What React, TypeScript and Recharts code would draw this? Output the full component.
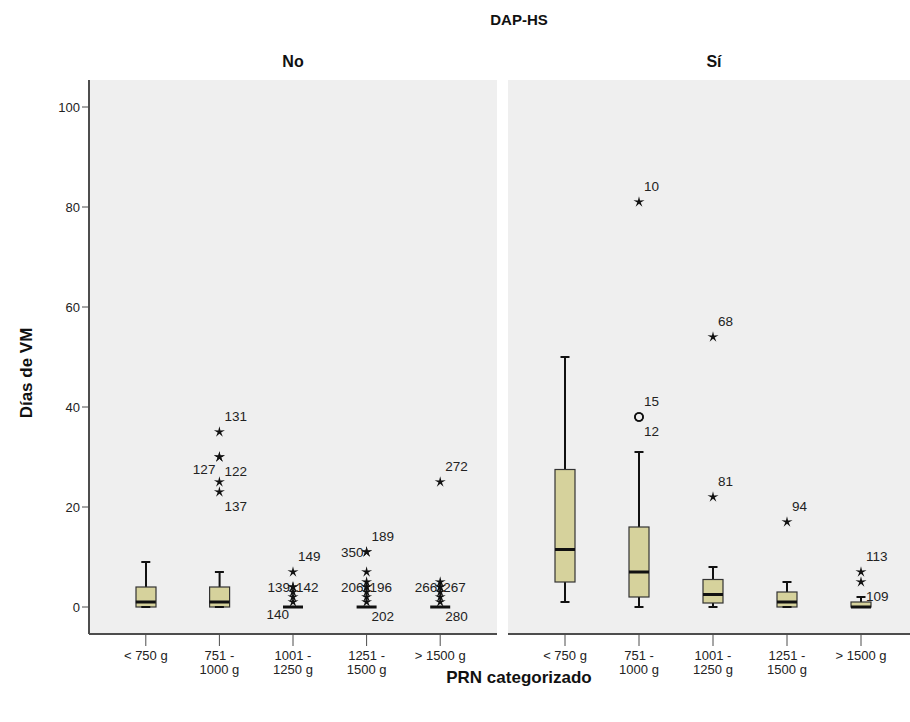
import React from "react";
import { Bar, CartesianGrid, ComposedChart, Scatter, XAxis, YAxis } from "recharts";

const categories = ["< 750 g", "751 - 1000 g", "1001 - 1250 g", "1251 - 1500 g", "> 1500 g"];
const yTicks = [0, 20, 40, 60, 80, 100];
const yDomain: [number, number] = [-5.4, 105.4];

// five-number summaries per category, DAP-HS = No
const noMin = [0, 0, 0, 0, 0];
const noQ1 = [0, 0, 0, 0, 0];
const noMedian = [1, 1, 0, 0, 0];
const noQ3 = [4, 4, 0, 0, 0];
const noMax = [9, 7, 0, 0, 0];

// DAP-HS = Sí
const siMin = [1, 0, 0, 0, 0];
const siQ1 = [5, 2, 0.8, 0, 0];
const siMedian = [11.5, 7, 2.5, 1, 0];
const siQ3 = [27.5, 16, 5.5, 3, 1];
const siMax = [50, 31, 8, 5, 2];

// [category index, días, case number or null]
const noExtremes: [number, number, number | null][] = [
  [1, 35, 131], [1, 30, 127], [1, 30, 122], [1, 25, null], [1, 23, 137],
  [2, 7, 149], [2, 4, 139], [2, 4, 142], [2, 3, null], [2, 2, null], [2, 1, 140],
  [3, 11, 350], [3, 11, 189], [3, 7, null], [3, 5, null], [3, 4, 206], [3, 4, 196],
  [3, 3, null], [3, 2, null], [3, 1, 202],
  [4, 25, 272], [4, 5, null], [4, 4, 266], [4, 4, 267], [4, 3, null], [4, 2, null], [4, 1, 280],
];
const noMild: [number, number, number | null][] = [];

const siExtremes: [number, number, number | null][] = [
  [1, 81, 10], [2, 54, 68], [2, 22, 81], [3, 17, 94], [4, 7, 113], [4, 5, 109],
];
const siMild: [number, number, number | null][] = [
  [1, 38, 15], [1, 38, 12],
];

// where each case label sits around its marker
const labelSpots: Record<number, string> = {
  131: "ur", 127: "dl", 122: "dr", 137: "dr", 149: "ur", 139: "l", 142: "r", 140: "dl",
  350: "l", 189: "ur", 206: "l", 196: "r", 202: "dr", 272: "ur", 266: "l", 267: "r", 280: "dr",
  10: "ur", 15: "ur", 12: "dr", 68: "ur", 81: "ur", 94: "ur", 113: "ur", 109: "dr",
};

const FONT = '"Liberation Sans", Arial, sans-serif';
const BOX_FILL = "#d6d29c";
const INK = "#111";
const FRAME = "#4d4d4d";

const buildRows = (mn: number[], q1: number[], md: number[], q3: number[], mx: number[]) =>
  categories.map((cat, i) => ({ cat, min: mn[i], q1: q1[i], median: md[i], q3: q3[i], max: mx[i] }));

const buildPoints = (ext: [number, number, number | null][], mild: [number, number, number | null][]) => [
  ...ext.map(([c, value, id]) => ({ cat: categories[c], value, id, kind: "star" })),
  ...mild.map(([c, value, id]) => ({ cat: categories[c], value, id, kind: "circle" })),
];

const noRows = buildRows(noMin, noQ1, noMedian, noQ3, noMax);
const siRows = buildRows(siMin, siQ1, siMedian, siQ3, siMax);
const noPoints = buildPoints(noExtremes, noMild);
const siPoints = buildPoints(siExtremes, siMild);

function starPoints(cx: number, cy: number) {
  const pts: string[] = [];
  for (let i = 0; i < 10; i++) {
    const r = i % 2 === 0 ? 5.8 : 1.8;
    const a = -Math.PI / 2 + (i * Math.PI) / 5;
    pts.push(`${cx + r * Math.cos(a)},${cy + r * Math.sin(a)}`);
  }
  return pts.join(" ");
}

const spotOffsets: Record<string, { dx: number; dy: number; anchor: "start" | "end" }> = {
  ur: { dx: 5, dy: -11, anchor: "start" },
  l: { dx: -3, dy: 5, anchor: "end" },
  r: { dx: 3, dy: 5, anchor: "start" },
  dl: { dx: -4, dy: 17, anchor: "end" },
  dr: { dx: 5, dy: 19, anchor: "start" },
};

function OutlierMark(props: any) {
  const { cx, cy, payload } = props;
  const spot = payload.id != null ? spotOffsets[labelSpots[payload.id] ?? "ur"] : null;
  return (
    <g>
      {payload.kind === "circle" ? (
        <circle cx={cx} cy={cy} r={4} fill="none" stroke={INK} strokeWidth={1.7} />
      ) : (
        <polygon points={starPoints(cx, cy)} fill={INK} />
      )}
      {spot && (
        <text
          x={cx + spot.dx}
          y={cy + spot.dy}
          textAnchor={spot.anchor}
          fontSize={13.5}
          fontFamily={FONT}
          fill="#222"
        >
          {payload.id}
        </text>
      )}
    </g>
  );
}

function Whisker(props: any) {
  const { x, y, width, height } = props;
  const top = Math.min(y, y + height);
  const bottom = Math.max(y, y + height);
  const mid = x + width / 2;
  return <line x1={mid} x2={mid} y1={top} y2={bottom} stroke={INK} strokeWidth={2} />;
}

function BoxRect(props: any) {
  const { x, y, width, height } = props;
  const top = Math.min(y, y + height);
  const h = Math.abs(height);
  return <rect x={x} y={top} width={width} height={h} fill={BOX_FILL} stroke="#333" strokeWidth={1.2} />;
}

const MedianMark = (p: any) => (
  <line x1={p.cx - 10} x2={p.cx + 10} y1={p.cy} y2={p.cy} stroke={INK} strokeWidth={3} />
);
const CapMark = (p: any) => (
  <line x1={p.cx - 4.5} x2={p.cx + 4.5} y1={p.cy} y2={p.cy} stroke={INK} strokeWidth={2} />
);

// category names break after the dash, as two stacked lines
function CatTick(props: any) {
  const { x, y, payload } = props;
  const parts = String(payload.value).split(" - ");
  const lines = parts.length === 2 ? [parts[0] + " -", parts[1]] : parts;
  return (
    <g>
      {lines.map((t, i) => (
        <text key={i} x={x} y={y + 12 + i * 14} textAnchor="middle" fontSize={13} fontFamily={FONT} fill="#222">
          {t}
        </text>
      ))}
    </g>
  );
}

function Panel({ rows, points, width, withTicks }: { rows: any[]; points: any[]; width: number; withTicks: boolean }) {
  return (
    <ComposedChart
      width={width}
      height={722}
      data={rows}
      margin={{ top: 80, right: 2, bottom: 48, left: 0 }}
      barSize={20}
      barGap={-20}
    >
      <CartesianGrid fill="#efefef" horizontal={false} vertical={false} />
      <XAxis
        dataKey="cat"
        allowDuplicatedCategory={false}
        padding={{ left: 20, right: 20 }}
        height={40}
        tickSize={12}
        tickMargin={2}
        tickLine={{ stroke: FRAME }}
        axisLine={{ stroke: FRAME, strokeWidth: 2 }}
        tick={<CatTick />}
        interval={0}
      />
      <XAxis
        xAxisId="top"
        orientation="top"
        dataKey="cat"
        allowDuplicatedCategory={false}
        height={0}
        tick={false}
        tickLine={false}
        axisLine={{ stroke: FRAME, strokeWidth: 2 }}
      />
      <YAxis
        domain={yDomain}
        ticks={withTicks ? yTicks : []}
        allowDataOverflow
        width={withTicks ? 89 : 0}
        tickSize={7}
        tickMargin={2}
        tick={withTicks ? { fontSize: 13, fontFamily: FONT, fill: "#222" } : false}
        tickLine={withTicks ? { stroke: FRAME } : false}
        axisLine={{ stroke: FRAME, strokeWidth: 2 }}
        label={
          withTicks
            ? {
                value: "Días de VM",
                angle: -90,
                position: "insideLeft",
                offset: 26,
                dy: 16,
                style: { fontSize: 17, fontWeight: 700, fontFamily: FONT, fill: "#111", textAnchor: "middle" },
              }
            : undefined
        }
      />
      <YAxis
        yAxisId="right"
        orientation="right"
        domain={yDomain}
        allowDataOverflow
        width={0}
        tick={false}
        tickLine={false}
        axisLine={{ stroke: FRAME, strokeWidth: 2 }}
      />
      <Bar dataKey={(d: any) => [d.min, d.max]} shape={<Whisker />} isAnimationActive={false} />
      <Bar dataKey={(d: any) => [d.q1, d.q3]} shape={<BoxRect />} isAnimationActive={false} />
      <Scatter data={rows} dataKey="median" shape={MedianMark} isAnimationActive={false} />
      <Scatter data={rows} dataKey="max" shape={CapMark} isAnimationActive={false} />
      <Scatter data={rows} dataKey="min" shape={CapMark} isAnimationActive={false} />
      <Scatter data={points} dataKey="value" shape={OutlierMark} isAnimationActive={false} />
    </ComposedChart>
  );
}

const heading = (left: number, top: number, width: number, size: number): React.CSSProperties => ({
  position: "absolute",
  left,
  top,
  width,
  textAlign: "center",
  fontFamily: FONT,
  fontWeight: 700,
  fontSize: size,
  color: "#111",
  lineHeight: `${size + 2}px`,
});

export default function App() {
  return (
    <div
      style={{
        position: "absolute",
        left: 0,
        top: 0,
        width: 910,
        height: 722,
        overflow: "hidden",
        background: "#fff",
      }}
    >
      <div style={heading(419, 11, 200, 15)}>DAP-HS</div>
      <div style={heading(193, 53, 200, 16)}>No</div>
      <div style={heading(614, 53, 200, 16)}>Sí</div>
      <div style={{ position: "absolute", left: 0, top: 0 }}>
        <Panel rows={noRows} points={noPoints} width={499} withTicks />
      </div>
      <div style={{ position: "absolute", left: 508, top: 0 }}>
        <Panel rows={siRows} points={siPoints} width={412} withTicks={false} />
      </div>
      <div style={heading(369, 668, 300, 17)}>PRN categorizado</div>
    </div>
  );
}
